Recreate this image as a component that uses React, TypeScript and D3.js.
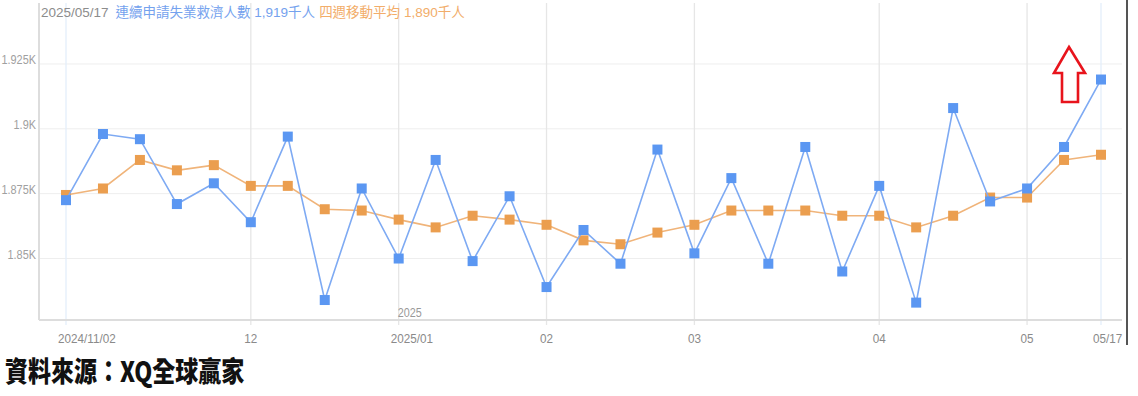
import React from "react";
import * as d3 from "d3";

const dates = ["2024/11/02","2024/11/09","2024/11/16","2024/11/23","2024/11/30","2024/12/07","2024/12/14","2024/12/21","2024/12/28","2025/01/04","2025/01/11","2025/01/18","2025/01/25","2025/02/01","2025/02/08","2025/02/15","2025/02/22","2025/03/01","2025/03/08","2025/03/15","2025/03/22","2025/03/29","2025/04/05","2025/04/12","2025/04/19","2025/04/26","2025/05/03","2025/05/10","2025/05/17"];
const continuingClaims = [1872.5, 1898, 1896, 1871, 1879, 1864, 1897, 1834, 1877, 1850, 1888, 1849, 1874, 1839, 1861, 1848, 1892, 1852, 1881, 1848, 1893, 1845, 1878, 1833, 1908, 1872, 1877, 1893, 1919];
const movingAvg4w = [1874.5, 1877, 1888, 1884, 1886, 1878, 1878, 1869, 1868.5, 1865, 1862, 1866.5, 1865, 1863, 1857, 1855.5, 1860, 1863, 1868.5, 1868.5, 1868.5, 1866.5, 1866.5, 1862, 1866.5, 1873.5, 1873.5, 1888, 1890];
const tickDates = ["2024/11/02","2024/12/07","2025/01/04","2025/02/01","2025/03/01","2025/04/05","2025/05/03","2025/05/17"];
const tickLabels = ["2024/11/02","12","2025/01","02","03","04","05","05/17"];
const yTicks = [1850, 1875, 1900, 1925];
const yTickLabels = ["1.85K", "1.875K", "1.9K", "1.925K"];
const legendDate = "2025/05/17";
const legendBlue = "連續申請失業救濟人數 1,919千人";
const legendOrange = "四週移動平均 1,890千人";
const sourceText = "資料來源：XQ全球贏家";

const W = 1138, H = 396;
const left = 39, right = 1122, top = 3, bottom = 320;
const BLUE = "#5b97f2", BLUE_LINE = "#7eaaf3";
const ORANGE = "#eb9e4f", ORANGE_LINE = "#f0b47a";
const SANS = "'Liberation Sans', Arial, sans-serif";

export default function App() {
  const x = d3.scalePoint<string>().domain(dates).range([66, 1101]);
  const y = d3.scaleLinear().domain([1826.3, 1948.5]).range([bottom, top]);
  const line = d3.line<number>().x((_, i) => x(dates[i])!).y((v) => y(v));
  const sq = 10;

  const series = [
    { vals: movingAvg4w, stroke: ORANGE_LINE, fill: ORANGE },
    { vals: continuingClaims, stroke: BLUE_LINE, fill: BLUE },
  ];

  return (
    <svg width={W} height={H} style={{ position: "absolute", left: 0, top: 0, background: "#fff" }}>
      <rect x={0} y={0} width={W} height={H} fill="#fff" />
      {yTicks.map((t) => (
        <line key={t} x1={left} x2={right} y1={y(t)} y2={y(t)} stroke="#eeeeee" strokeWidth={1} />
      ))}
      {tickDates.map((d, i) => {
        const edge = i === 0 || i === tickDates.length - 1;
        return (
          <line key={d} x1={x(d)} x2={x(d)} y1={top} y2={bottom + 5} stroke={edge ? "#e3eefb" : "#e6e6e6"} strokeWidth={1.3} />
        );
      })}
      <line x1={left} x2={left} y1={top} y2={bottom} stroke="#dddddd" strokeWidth={2} />
      <line x1={left} x2={right} y1={bottom} y2={bottom} stroke="#dddddd" strokeWidth={2} />
      <line x1={1127} x2={1127} y1={0} y2={345} stroke="#555" strokeWidth={2} />

      {yTicks.map((t, i) => (
        <g key={t} transform={`translate(36,${y(t) + 0.5}) scale(0.84,1)`}>
          <text x={0} y={0} textAnchor="end" fontSize={13} fill="#a0a0a0" fontFamily={SANS}>
            {yTickLabels[i]}
          </text>
        </g>
      ))}
      {tickDates.map((d, i) => {
        const lab = tickLabels[i];
        const full = lab.includes("/");
        return (
          <g key={d} transform={`translate(${full ? x(d)! - 8 : x(d)!},343) scale(0.9,1)`}>
            <text x={0} y={0} textAnchor={full ? "start" : "middle"} fontSize={13} fill="#8a8a8a" fontFamily={SANS}>
              {lab}
            </text>
          </g>
        );
      })}
      <g transform={`translate(${x("2025/01/04")! - 1},317) scale(0.9,1)`}>
        <text x={0} y={0} fontSize={12} fill="#999" fontFamily={SANS}>2025</text>
      </g>

      {series.map((s, k) => (
        <g key={k}>
          <path d={line(s.vals)!} fill="none" stroke={s.stroke} strokeWidth={1.6} />
          {s.vals.map((v, i) => (
            <rect key={i} x={x(dates[i])! - sq / 2} y={y(v) - sq / 2} width={sq} height={sq} fill={s.fill} />
          ))}
        </g>
      ))}

      <text x={41} y={17} fontSize={13.5} fontFamily="'Liberation Sans', 'Noto Sans CJK TC', sans-serif">
        <tspan fill="#8c8c8c">{legendDate}</tspan>
        <tspan fill="#74a2ee" dx={7}>{legendBlue}</tspan>
        <tspan fill="#f2ad6a" dx={4}>{legendOrange}</tspan>
      </text>

      <path d="M1069,47 L1085,73 L1078,73 L1078,102 L1062,102 L1062,73 L1054,73 Z" fill="#fff" stroke="#e8141c" strokeWidth={2.6} strokeLinejoin="miter" />

      <g transform="translate(5,382) scale(1,1.22)">
        <text x={0} y={0} fontSize={23} fontWeight={900} fill="#111" fontFamily="'Noto Sans CJK TC', serif">{sourceText}</text>
      </g>
    </svg>
  );
}
